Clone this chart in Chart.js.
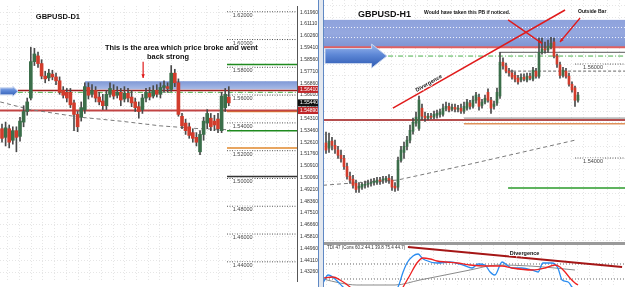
<!DOCTYPE html>
<html><head><meta charset="utf-8">
<script src="https://cdn.jsdelivr.net/npm/chart.js@4.4.1/dist/chart.umd.min.js"></script>
<style>
html,body{margin:0;padding:0;background:#fff;overflow:hidden}
#wrap{position:relative;width:625px;height:287px;overflow:hidden}
canvas{position:absolute;display:block}
#sep{position:absolute;left:318px;top:0;width:6px;height:287px;background:#e3e8ef;border-left:1px solid #5f88c4;border-right:1px solid #5f88c4;box-sizing:border-box}
#bar{position:absolute;left:324px;top:242px;width:301px;height:3px;background:#9a9a9a}
</style></head><body>
<div id="wrap">
<canvas id="c1" width="318" height="287" style="left:0;top:0"></canvas>
<div id="sep"></div>
<canvas id="c2" width="301" height="242" style="left:324px;top:0"></canvas>
<div id="bar"></div>
<canvas id="c3" width="301" height="42" style="left:324px;top:245px"></canvas>
</div>
<script>
// ================= DATA =================
// GBPUSD daily candles
const d1Open  = [1.5358,1.5296,1.5358,1.5275,1.5344,1.5303,1.5406,1.5482,1.5579,1.5841,1.5882,1.5827,1.5737,1.5724,1.5751,1.5731,1.5703,1.5634,1.5620,1.5620,1.5544,1.5461,1.5441,1.5496,1.5655,1.5606,1.5634,1.5586,1.5558,1.5524,1.5606,1.5634,1.5599,1.5620,1.5572,1.5613,1.5586,1.5551,1.5517,1.5496,1.5579,1.5613,1.5593,1.5634,1.5606,1.5655,1.5661,1.5641,1.5758,1.5689,1.5448,1.5399,1.5372,1.5330,1.5296,1.5192,1.5317,1.5399,1.5434,1.5413,1.5427,1.5344,1.5510,1.5586];
const d1Close = [1.5289,1.5365,1.5261,1.5344,1.5296,1.5413,1.5482,1.5551,1.5841,1.5896,1.5827,1.5737,1.5717,1.5758,1.5731,1.5703,1.5620,1.5599,1.5579,1.5530,1.5461,1.5372,1.5510,1.5661,1.5599,1.5634,1.5579,1.5551,1.5524,1.5606,1.5648,1.5593,1.5620,1.5565,1.5613,1.5579,1.5544,1.5510,1.5482,1.5579,1.5620,1.5586,1.5634,1.5606,1.5655,1.5668,1.5648,1.5758,1.5689,1.5461,1.5379,1.5344,1.5310,1.5289,1.5261,1.5317,1.5413,1.5468,1.5372,1.5385,1.5358,1.5593,1.5606,1.5544];
const d1High  = [1.5392,1.5406,1.5385,1.5372,1.5372,1.5441,1.5524,1.5579,1.5945,1.5937,1.5910,1.5855,1.5772,1.5786,1.5779,1.5758,1.5731,1.5661,1.5648,1.5648,1.5565,1.5482,1.5551,1.5689,1.5689,1.5675,1.5661,1.5620,1.5606,1.5634,1.5689,1.5675,1.5661,1.5648,1.5661,1.5648,1.5634,1.5579,1.5551,1.5606,1.5648,1.5655,1.5668,1.5675,1.5689,1.5703,1.5689,1.5813,1.5786,1.5717,1.5468,1.5427,1.5399,1.5358,1.5330,1.5344,1.5441,1.5496,1.5468,1.5455,1.5468,1.5620,1.5648,1.5661];
const d1Low   = [1.5261,1.5234,1.5220,1.5247,1.5192,1.5268,1.5372,1.5455,1.5565,1.5813,1.5799,1.5717,1.5689,1.5703,1.5710,1.5675,1.5606,1.5579,1.5551,1.5510,1.5344,1.5337,1.5413,1.5468,1.5572,1.5586,1.5551,1.5530,1.5496,1.5496,1.5586,1.5572,1.5579,1.5524,1.5551,1.5551,1.5517,1.5482,1.5434,1.5468,1.5551,1.5565,1.5579,1.5586,1.5579,1.5620,1.5620,1.5627,1.5661,1.5448,1.5358,1.5317,1.5289,1.5261,1.5234,1.5172,1.5275,1.5358,1.5344,1.5344,1.5330,1.5330,1.5482,1.5524];
// daily moving average (sampled)
const d1MaIdx = [-0.5,7.8,21.7,32.8,43.9,55,63.3];
const d1MaVal = [1.5551,1.5496,1.5441,1.5413,1.5379,1.5358,1.5351];
// daily axis tick labels
const d1AxisTicks = [1.6196,1.6111,1.6026,1.5941,1.5856,1.5771,1.5686,1.5601,1.5516,1.5431,1.5346,1.5261,1.5176,1.5091,1.5006,1.4921,1.4836,1.4751,1.4666,1.4581,1.4496,1.4411,1.4326];
// round-number levels drawn on the daily chart
const d1Levels = [1.62,1.60,1.58,1.56,1.54,1.52,1.50,1.48,1.46,1.44];
// marked prices on the daily axis
const d1AxisMarks = [1.5641,1.5544,1.5489];

// GBPUSD hourly candles
const h1Open  = [1.5432,1.5421,1.5436,1.5427,1.5417,1.5406,1.5399,1.5382,1.5361,1.5355,1.5346,1.5336,1.5338,1.5342,1.5344,1.5346,1.5348,1.5348,1.5353,1.5353,1.5353,1.5357,1.5353,1.5340,1.5338,1.5395,1.5412,1.5425,1.5438,1.5457,1.5474,1.5463,1.5506,1.5489,1.5485,1.5489,1.5487,1.5491,1.5493,1.5493,1.5506,1.5510,1.5504,1.5508,1.5504,1.5506,1.5500,1.5506,1.5517,1.5510,1.5523,1.5529,1.5512,1.5519,1.5540,1.5523,1.5510,1.5517,1.5532,1.5604,1.5596,1.5585,1.5581,1.5576,1.5570,1.5566,1.5572,1.5566,1.5574,1.5568,1.5585,1.5574,1.5625,1.5632,1.5630,1.5636,1.5647,1.5617,1.5598,1.5576,1.5585,1.5574,1.5557,1.5549,1.5523];
const h1Close = [1.5417,1.5436,1.5427,1.5419,1.5406,1.5399,1.5382,1.5361,1.5353,1.5342,1.5333,1.5340,1.5344,1.5344,1.5346,1.5348,1.5351,1.5353,1.5351,1.5355,1.5357,1.5353,1.5338,1.5336,1.5395,1.5417,1.5425,1.5438,1.5459,1.5476,1.5487,1.5523,1.5489,1.5485,1.5489,1.5487,1.5493,1.5495,1.5498,1.5506,1.5510,1.5502,1.5508,1.5504,1.5506,1.5500,1.5510,1.5519,1.5510,1.5523,1.5534,1.5510,1.5519,1.5527,1.5523,1.5506,1.5515,1.5540,1.5604,1.5596,1.5585,1.5581,1.5572,1.5568,1.5562,1.5572,1.5568,1.5574,1.5570,1.5587,1.5574,1.5625,1.5632,1.5630,1.5638,1.5644,1.5617,1.5600,1.5576,1.5587,1.5574,1.5557,1.5545,1.5523,1.5534];
const h1High  = [1.5455,1.5453,1.5444,1.5438,1.5425,1.5417,1.5406,1.5389,1.5370,1.5363,1.5353,1.5346,1.5348,1.5351,1.5353,1.5355,1.5357,1.5359,1.5359,1.5361,1.5361,1.5365,1.5361,1.5348,1.5402,1.5425,1.5434,1.5446,1.5470,1.5485,1.5498,1.5532,1.5515,1.5498,1.5495,1.5495,1.5500,1.5502,1.5504,1.5515,1.5519,1.5517,1.5515,1.5515,1.5512,1.5515,1.5519,1.5525,1.5523,1.5532,1.5540,1.5536,1.5525,1.5534,1.5547,1.5529,1.5521,1.5549,1.5625,1.5613,1.5602,1.5591,1.5587,1.5583,1.5576,1.5579,1.5579,1.5581,1.5581,1.5593,1.5591,1.5655,1.5655,1.5647,1.5651,1.5657,1.5655,1.5621,1.5604,1.5593,1.5591,1.5581,1.5562,1.5553,1.5540];
const h1Low   = [1.5410,1.5412,1.5417,1.5410,1.5399,1.5391,1.5376,1.5355,1.5346,1.5336,1.5327,1.5327,1.5333,1.5336,1.5338,1.5340,1.5342,1.5344,1.5344,1.5346,1.5348,1.5346,1.5331,1.5329,1.5331,1.5391,1.5399,1.5417,1.5432,1.5451,1.5468,1.5459,1.5481,1.5478,1.5481,1.5483,1.5483,1.5485,1.5487,1.5489,1.5500,1.5498,1.5500,1.5498,1.5498,1.5495,1.5495,1.5502,1.5504,1.5506,1.5517,1.5502,1.5506,1.5515,1.5519,1.5495,1.5504,1.5512,1.5527,1.5589,1.5581,1.5574,1.5568,1.5562,1.5557,1.5562,1.5564,1.5562,1.5566,1.5564,1.5570,1.5570,1.5621,1.5623,1.5625,1.5632,1.5613,1.5593,1.5570,1.5572,1.5570,1.5553,1.5540,1.5510,1.5519];
// hourly moving average (sampled)
const h1MaIdx = [-1,11.3,23.7,48,83];
const h1MaVal = [1.5342,1.5348,1.5353,1.5387,1.5438];
// hourly round-number levels
const h1Levels = [1.56,1.54];

// TDI indicator (hourly), sampled
const tdiBlueIdx = [-1,0.7,3,5.7,8,12,20,24,25.7,27,29,30.7,32,33,37,41.3,45.7,48.7,50.7,53,54.7,56.3,58.7,60.3,62,65.3,68.7,70.7,72.3,75.3,77.3,78.7,80.7,82,83.3];
const tdiBlueVal = [45.2,54.8,50,40.4,34,30,30,40.4,58.4,69.2,77.6,80,75.2,72.8,69.2,70.4,66.8,63.2,68,66.8,58.4,54.8,70.4,66.8,63.2,63.2,60.8,58.4,69.2,69.2,63.2,48.8,46.4,40.4,34.4];
const tdiRedIdx  = [-1,2.3,4.7,8,9.7,24.7,25.7,28,30.3,32.3,34.7,37,40.3,43.7,48,53,58.7,62,68.7,73,76.3,78,79.7,81.3,83,84];
const tdiRedVal  = [51.2,52.4,48.8,40.4,34.4,34.4,40.4,54.8,69.2,75.2,74,71.6,70.4,69.2,66.8,65.6,65.6,63.2,60.8,63.2,66.8,64.4,58.4,51.2,45.2,42.8];
const tdiGreyIdx = [-1,4.7,10.3,23,31.3,38,48,57.3,68,76.3,83];
const tdiGreyVal = [50,45.2,42.8,42.8,48.8,53.6,60.8,66.8,65.6,63.2,60.8];
const tdiLevels  = [68,50];

// ================= HELPERS =================
const FONT = '"Liberation Sans", Arial, sans-serif';
const BULL = '#3b6e4a', BEAR = '#d23c2c', WICK = '#4a4a4a';
const pts = (ix, vals) => ix.map((x,i)=>({x, y:vals[i]}));
function hline(v, x0, x1, color, width, dash, order){
  return {type:'line', data:[{x:x0,y:v},{x:x1,y:v}], borderColor:color, borderWidth:width||1,
          borderDash:dash||[], pointRadius:0, order:order||5, tension:0};
}
function candleSets(o,h,l,c,bodyW){
  return [
    {type:'bar', data:o.map((v,i)=>({x:i,y:[l[i],h[i]]})), backgroundColor:WICK, barThickness:1, grouped:false, order:1},
    {type:'bar', data:o.map((v,i)=>({x:i,y:[v,c[i]]})), backgroundColor:o.map((v,i)=>c[i]>=v?BULL:BEAR),
     barThickness:bodyW, grouped:false, minBarLength:1, order:0}
  ];
}
function text(ctx, s, x, y, size, color, align, bold, halo){
  ctx.save();
  ctx.font = (bold?'bold ':'') + size + 'px ' + FONT;
  ctx.textAlign = align||'left'; ctx.textBaseline = 'middle';
  if (halo){ ctx.lineWidth = 2; ctx.strokeStyle = 'rgba(255,255,255,0.9)'; ctx.strokeText(s,x,y); }
  ctx.fillStyle = color; ctx.fillText(s,x,y);
  ctx.restore();
}
function blueArrow(ctx, x0, x1, xh, yc, hb, hh){
  ctx.save();
  const g = ctx.createLinearGradient(0, yc-hh, 0, yc+hh);
  g.addColorStop(0,'#9ab8ee'); g.addColorStop(0.45,'#5d87d6'); g.addColorStop(1,'#2c58b0');
  ctx.beginPath(); ctx.moveTo(x0,yc-hb); ctx.lineTo(xh,yc-hb); ctx.lineTo(xh,yc-hh); ctx.lineTo(x1,yc);
  ctx.lineTo(xh,yc+hh); ctx.lineTo(xh,yc+hb); ctx.lineTo(x0,yc+hb); ctx.closePath();
  ctx.fillStyle = g; ctx.fill(); ctx.strokeStyle = '#c9d6ee'; ctx.lineWidth = 1; ctx.stroke();
  ctx.restore();
}
function redArrow(ctx, x0, y0, x1, y1, w, head){
  ctx.save();
  ctx.strokeStyle = '#e01b1b'; ctx.fillStyle = '#e01b1b'; ctx.lineWidth = w;
  ctx.beginPath(); ctx.moveTo(x0,y0); ctx.lineTo(x1,y1); ctx.stroke();
  if (head){
    const a = Math.atan2(y1-y0, x1-x0);
    ctx.beginPath(); ctx.moveTo(x1,y1);
    ctx.lineTo(x1 - head*Math.cos(a-0.45), y1 - head*Math.sin(a-0.45));
    ctx.lineTo(x1 - head*Math.cos(a+0.45), y1 - head*Math.sin(a+0.45));
    ctx.closePath(); ctx.fill();
  }
  ctx.restore();
}
const gridOpts = {color:'#e6e6e6', lineWidth:1, drawTicks:false};
const baseOpts = {responsive:false, animation:false, events:[], layout:{padding:0},
  plugins:{legend:{display:false}, tooltip:{enabled:false}}};

// ================= DAILY CHART =================
const D1_XMAX = 81.94;
const d1Datasets = [
  ...candleSets(d1Open,d1High,d1Low,d1Close,3),
  {type:'line', data:pts(d1MaIdx,d1MaVal), borderColor:'#7a7a7a', borderWidth:1, borderDash:[4,3], pointRadius:0, order:4},
  hline(1.5634, 4.4, D1_XMAX, '#9e1a1a', 1.5),
  hline(1.5620, 4.4, D1_XMAX, '#49b049', 1, [5,2,1,2]),
  hline(1.5489, -1, D1_XMAX, '#c24444', 2),
  hline(1.5820, 62.5, D1_XMAX, '#1f8a1f', 1.5),
  hline(1.5344, 62.5, D1_XMAX, '#1f8a1f', 1.5),
  hline(1.5482, 62.5, D1_XMAX, '#e0882c', 1.5),
  hline(1.5220, 62.5, D1_XMAX, '#e0882c', 1.5),
  hline(1.5014, 62.5, D1_XMAX, '#333333', 1.5),
  ...d1Levels.map(v => hline(v, 62.5, D1_XMAX, '#555', 1, [1,1.5], 6))
];
const d1Plugin = {
  id:'d1ann',
  beforeDatasetsDraw(chart){
    const {ctx, scales:{x,y}, chartArea:a} = chart;
    ctx.save();
    const x0 = x.getPixelForValue(23.06), y0 = y.getPixelForValue(1.5700), y1 = y.getPixelForValue(1.5641);
    const g = ctx.createLinearGradient(0,y0,0,y1);
    g.addColorStop(0,'#7f98d6'); g.addColorStop(1,'#a9bbe6');
    ctx.fillStyle = g; ctx.fillRect(x0, y0, a.right-x0, y1-y0);
    ctx.restore();
  },
  afterDatasetsDraw(chart){
    const {ctx, scales:{x,y}, chartArea:a} = chart;
    d1Levels.forEach(v => text(ctx, v.toFixed(5), x.getPixelForValue(64.1), y.getPixelForValue(v)+3.5, 5.5, '#444', 'left', false, true));
    blueArrow(ctx, 0, x.getPixelForValue(4.45), x.getPixelForValue(3.0), y.getPixelForValue(1.5627), 3.5, 5);
    redArrow(ctx, x.getPixelForValue(39.2), y.getPixelForValue(1.5841), x.getPixelForValue(39.2), y.getPixelForValue(1.5724), 1.2, 4);
    text(ctx, 'GBPUSD-D1', x.getPixelForValue(9.4), y.getPixelForValue(1.6160), 7.5, '#111', 'left', true, true);
    text(ctx, 'This is the area which price broke and went', x.getPixelForValue(28.6), y.getPixelForValue(1.5938), 7.4, '#111', 'left', true, true);
    text(ctx, 'back strong', x.getPixelForValue(40.3), y.getPixelForValue(1.5876), 7.4, '#111', 'left', true, true);
  },
  afterDraw(chart){
    const {ctx, scales:{y}, chartArea:a} = chart;
    const styles = ['#c0262a','#111111','#c0262a'];
    d1AxisMarks.forEach((v,i) => {
      const py = y.getPixelForValue(v);
      ctx.save(); ctx.fillStyle = styles[i]; ctx.fillRect(a.right+1, py-3.5, 20, 7); ctx.restore();
      text(ctx, v.toFixed(5), a.right+3, py, 5, '#fff', 'left', false, false);
    });
  }
};
new Chart(document.getElementById('c1'), {
  type:'bar', data:{datasets:d1Datasets},
  options:{...baseOpts,
    scales:{
      x:{type:'linear', min:-0.556, max:D1_XMAX, offset:false, grid:gridOpts, border:{display:false, dash:[1,2]},
         ticks:{display:false, stepSize:3.25, includeBounds:false}, afterFit(s){ s.height = 0; }},
      y:{type:'linear', position:'right', min:1.42621, max:1.62414, grid:gridOpts,
         border:{display:true, color:'#555', width:1, dash:[1,2]},
         afterBuildTicks(s){ s.ticks = d1AxisTicks.map(v=>({value:v})); },
         ticks:{padding:3, color:'#333', font:{size:5, family:FONT}, callback:v=>Number(v).toFixed(5)},
         afterFit(s){ s.width = 21; }}
    }},
  plugins:[d1Plugin]
});

// ================= HOURLY CHART =================
const H1_XMAX = 99.67;
const h1Datasets = [
  ...candleSets(h1Open,h1High,h1Low,h1Close,2),
  {type:'line', data:pts(h1MaIdx,h1MaVal), borderColor:'#7a7a7a', borderWidth:1, borderDash:[4,3], pointRadius:0, order:4},
  hline(1.5636, -1, H1_XMAX, '#e06060', 2),
  hline(1.5625, 58, H1_XMAX, '#7a7a7a', 1.2),
  hline(1.5617, 20.7, H1_XMAX, '#49b049', 1, [5,2,1,2]),
  hline(1.5585, 60.7, H1_XMAX, '#666', 1, [3,2]),
  hline(1.5485, 46, H1_XMAX, '#888', 1),
  hline(1.5481, -1, H1_XMAX, '#9e1414', 1.5),
  hline(1.5473, 46, H1_XMAX, '#e0915a', 1.5),
  hline(1.5336, 60.7, H1_XMAX, '#2a9a2a', 1.5),
  ...h1Levels.map(v => hline(v, 83, H1_XMAX, '#555', 1, [1,1.5], 6))
];
const h1Plugin = {
  id:'h1ann',
  beforeDatasetsDraw(chart){
    const {ctx, scales:{x,y}, chartArea:a} = chart;
    ctx.save();
    const y0 = y.getPixelForValue(1.5694), y1 = y.getPixelForValue(1.5636);
    const g = ctx.createLinearGradient(0,y0,0,y1);
    g.addColorStop(0,'#8ea2dc'); g.addColorStop(0.5,'#95a8df'); g.addColorStop(1,'#7d94d3');
    ctx.fillStyle = g; ctx.fillRect(a.left, y0, a.right-a.left, y1-y0);
    ctx.strokeStyle = 'rgba(255,255,255,0.85)'; ctx.setLineDash([1,2]); ctx.lineWidth = 1;
    [1.5679,1.5658].forEach(v => { const p = Math.round(y.getPixelForValue(v))+0.5; ctx.beginPath(); ctx.moveTo(a.left,p); ctx.lineTo(a.right,p); ctx.stroke(); });
    ctx.restore();
  },
  afterDatasetsDraw(chart){
    const {ctx, scales:{x,y}, chartArea:a} = chart;
    h1Levels.forEach(v => text(ctx, v.toFixed(5), x.getPixelForValue(85.7), y.getPixelForValue(v)+3.5, 5.5, '#444', 'left', false, true));
    blueArrow(ctx, 1, x.getPixelForValue(20.3), x.getPixelForValue(15.2), y.getPixelForValue(1.5617), 7.5, 12);
    const dx0 = x.getPixelForValue(22.3), dy0 = y.getPixelForValue(1.5506), dx1 = x.getPixelForValue(79.7), dy1 = y.getPixelForValue(1.5715);
    redArrow(ctx, dx0, dy0, dx1, dy1, 1.5, 0);
    ctx.save();
    ctx.translate(x.getPixelForValue(34.3), y.getPixelForValue(1.5559));
    ctx.rotate(Math.atan2(dy1-dy0, dx1-dx0));
    text(ctx, 'Divergence', 0, 0, 5.5, '#111', 'center', true, true);
    ctx.restore();
    redArrow(ctx, x.getPixelForValue(60.7), y.getPixelForValue(1.5694), x.getPixelForValue(72), y.getPixelForValue(1.5644), 1.3, 4);
    redArrow(ctx, x.getPixelForValue(84.7), y.getPixelForValue(1.5698), x.getPixelForValue(78), y.getPixelForValue(1.5647), 1.3, 4);
    text(ctx, 'GBPUSD-H1', x.getPixelForValue(10.7), y.getPixelForValue(1.5706), 9, '#111', 'left', true, true);
    text(ctx, 'Would have taken this PB if noticed.', x.getPixelForValue(32.7), y.getPixelForValue(1.5709), 5, '#111', 'left', true, true);
    text(ctx, 'Outside Bar', x.getPixelForValue(84), y.getPixelForValue(1.5711), 5, '#111', 'left', true, true);
  }
};
new Chart(document.getElementById('c2'), {
  type:'bar', data:{datasets:h1Datasets},
  options:{...baseOpts,
    scales:{
      x:{type:'linear', min:-0.667, max:H1_XMAX, offset:false, grid:gridOpts, border:{display:false, dash:[1,2]},
         ticks:{display:false, stepSize:4, includeBounds:false}, afterFit(s){ s.height = 0; }},
      y:{type:'linear', min:1.52213, max:1.57363, grid:gridOpts, border:{display:false, dash:[1,2]},
         ticks:{display:false, stepSize:0.0025, includeBounds:false}, afterFit(s){ s.width = 0; }}
    }},
  plugins:[h1Plugin]
});

// ================= TDI INDICATOR =================
const tdiDatasets = [
  {type:'line', data:pts(tdiBlueIdx,tdiBlueVal), borderColor:'#2a8cf0', borderWidth:1.3, pointRadius:0, cubicInterpolationMode:'monotone', order:2},
  {type:'line', data:pts(tdiRedIdx,tdiRedVal), borderColor:'#ee2222', borderWidth:1.3, pointRadius:0, cubicInterpolationMode:'monotone', order:1},
  {type:'line', data:pts(tdiGreyIdx,tdiGreyVal), borderColor:'#8a8a8a', borderWidth:1, pointRadius:0, cubicInterpolationMode:'monotone', order:3},
  {type:'line', data:[{x:27.3,y:88.4},{x:98.7,y:64.4}], borderColor:'#a51616', borderWidth:2, pointRadius:0, order:0},
  ...tdiLevels.map(v => hline(v, -1, H1_XMAX, '#666', 1, [1,2], 6))
];
const tdiPlugin = {
  id:'tdiann',
  afterDatasetsDraw(chart){
    const {ctx, scales:{x,y}} = chart;
    text(ctx, 'TDI 47 (Cons 60.2 44.1 39.8 75.4 44.7)', x.getPixelForValue(0.3), y.getPixelForValue(87.2), 4.5, '#333', 'left', false, true);
    text(ctx, 'Divergence', x.getPixelForValue(66.2), y.getPixelForValue(81.2), 5.5, '#111', 'center', true, true);
  }
};
new Chart(document.getElementById('c3'), {
  type:'line', data:{datasets:tdiDatasets},
  options:{...baseOpts,
    scales:{
      x:{type:'linear', min:-0.667, max:H1_XMAX, grid:gridOpts, border:{display:false, dash:[1,2]},
         ticks:{display:false, stepSize:4, includeBounds:false}, afterFit(s){ s.height = 0; }},
      y:{type:'linear', min:40.4, max:90.8, grid:{display:false}, border:{display:false},
         ticks:{display:false}, afterFit(s){ s.width = 0; }}
    }},
  plugins:[tdiPlugin]
});
</script>
</body></html>
